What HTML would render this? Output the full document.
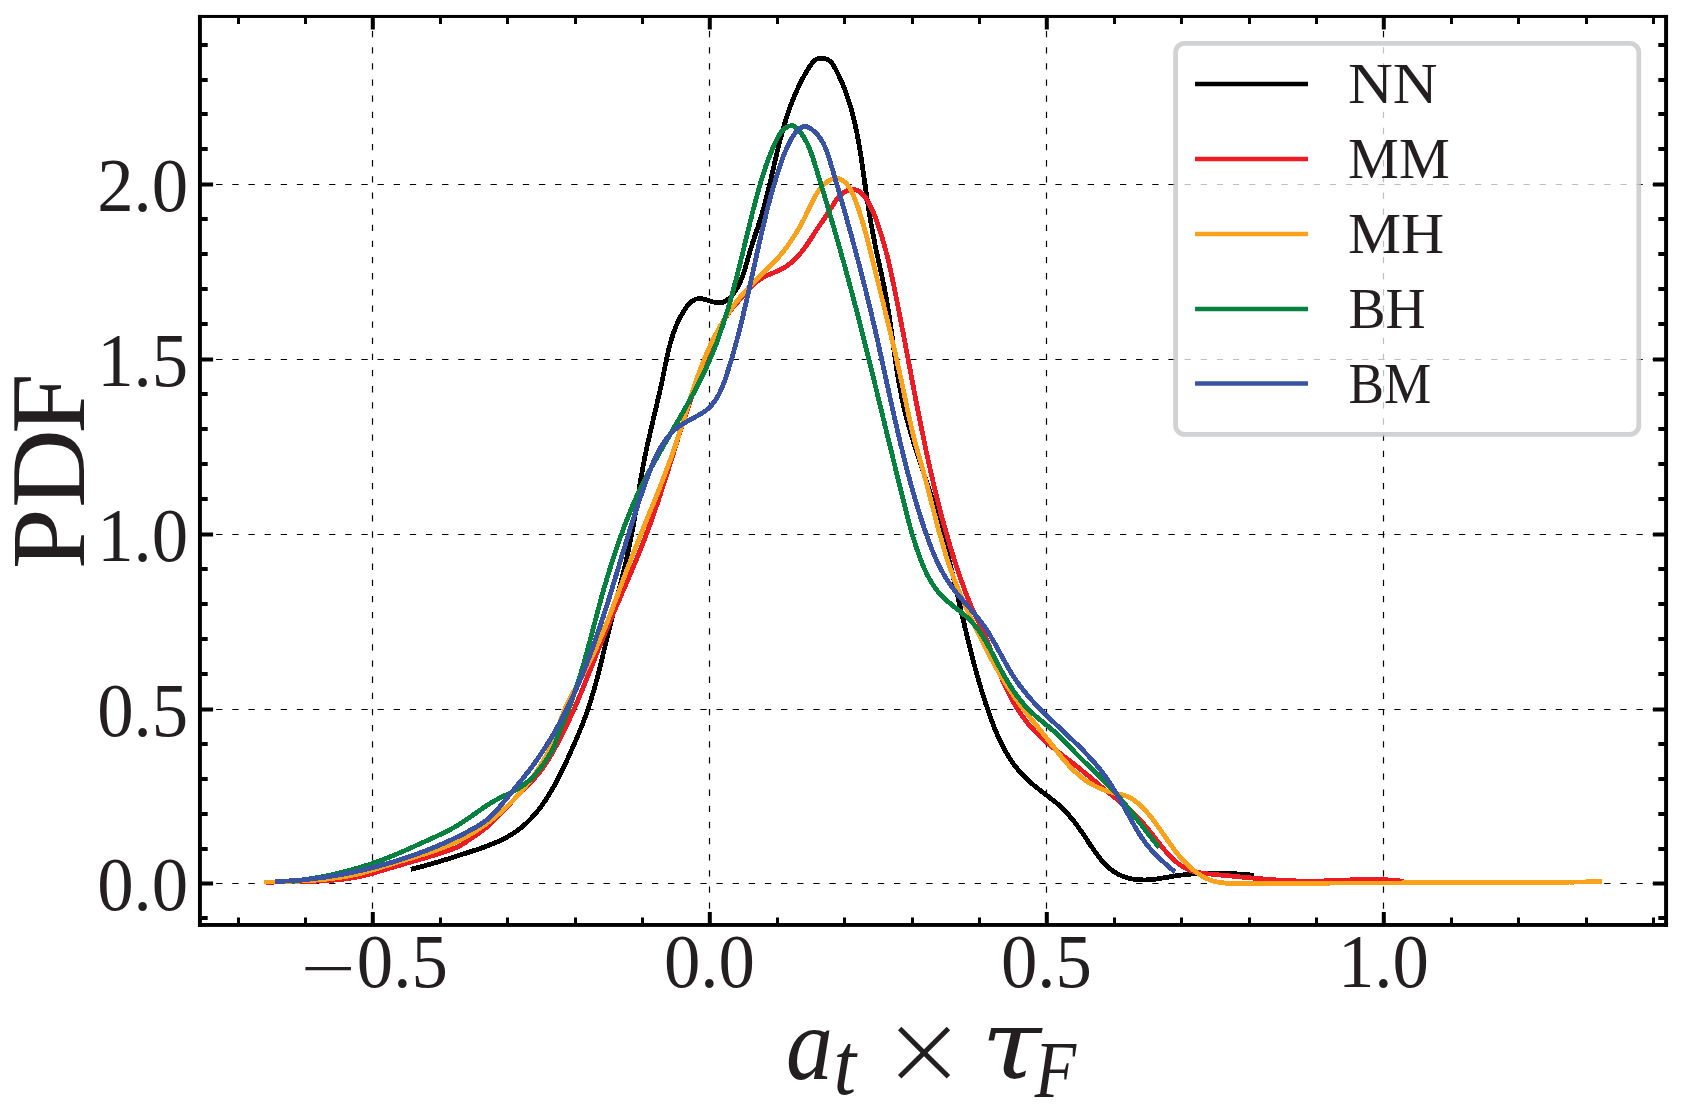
<!DOCTYPE html>
<html lang="en"><head><meta charset="utf-8"><title>PDF of a_t x tau_F</title>
<style>html,body{margin:0;padding:0;background:#fff;}body{width:1684px;height:1113px;overflow:hidden;}svg{display:block;}text{font-family:"Liberation Serif","DejaVu Serif",serif;fill:#231f20;}</style></head><body>
<svg width="1684" height="1113" viewBox="0 0 1684 1113">
<rect x="0" y="0" width="1684" height="1113" fill="#ffffff"/>
<g stroke="#000" stroke-width="1.2" stroke-dasharray="6.3 9.84" fill="none">
<path d="M372.50 925.00V16.50"/>
<path d="M709.50 925.00V16.50"/>
<path d="M1046.50 925.00V16.50"/>
<path d="M1383.50 925.00V16.50"/>
<path d="M200.00 883.50H1666.00"/>
<path d="M200.00 709.50H1666.00"/>
<path d="M200.00 534.50H1666.00"/>
<path d="M200.00 359.50H1666.00"/>
<path d="M200.00 184.50H1666.00"/>
</g>
<g fill="none" stroke-width="4.8" stroke-linejoin="round" stroke-linecap="butt" shape-rendering="crispEdges">
<path id="c-black" stroke="#000000" d="M410.9 869.4 414.8 868.4 418.7 867.4 422.5 866.4 426.4 865.3 430.2 864.2 434.1 863.1 437.9 862.0 441.7 860.8 445.6 859.7 449.4 858.5 453.2 857.3 457.0 856.1 460.8 854.8 464.6 853.6 468.4 852.4 472.2 851.1 476.0 849.9 479.8 848.6 483.6 847.3 487.3 845.9 491.0 844.5 494.7 843.0 498.4 841.4 502.0 839.7 505.6 837.9 509.1 835.9 512.5 833.9 515.8 831.6 519.1 829.3 522.2 826.8 525.2 824.2 528.1 821.4 530.9 818.6 533.6 815.6 536.3 812.6 538.8 809.5 541.2 806.3 543.5 803.1 545.8 799.8 547.9 796.4 550.0 793.0 552.1 789.6 554.0 786.1 556.0 782.6 557.8 779.0 559.6 775.5 561.4 771.9 563.2 768.3 564.9 764.7 566.6 761.1 568.2 757.4 569.9 753.8 571.5 750.1 573.1 746.5 574.7 742.8 576.3 739.2 577.9 735.5 579.4 731.8 580.9 728.1 582.4 724.4 583.8 720.6 585.2 716.9 586.6 713.1 587.9 709.4 589.2 705.6 590.4 701.8 591.6 697.9 592.7 694.1 593.9 690.3 594.9 686.4 596.0 682.6 597.0 678.7 598.0 674.8 599.0 671.0 600.0 667.1 600.9 663.2 601.9 659.3 602.8 655.4 603.8 651.5 604.7 647.7 605.6 643.8 606.5 639.9 607.5 636.0 608.4 632.1 609.4 628.2 610.4 624.4 611.3 620.5 612.3 616.6 613.3 612.7 614.3 608.8 615.3 605.0 616.3 601.1 617.2 597.2 618.2 593.3 619.2 589.5 620.2 585.6 621.1 581.7 622.1 577.8 623.0 573.9 623.9 570.1 624.9 566.2 625.8 562.3 626.7 558.4 627.5 554.5 628.4 550.6 629.2 546.6 630.0 542.7 630.8 538.8 631.5 534.9 632.3 531.0 633.0 527.0 633.7 523.1 634.4 519.1 635.0 515.2 635.7 511.3 636.3 507.3 636.9 503.4 637.6 499.4 638.2 495.5 638.8 491.5 639.4 487.6 640.1 483.6 640.7 479.7 641.4 475.7 642.1 471.8 642.8 467.9 643.5 463.9 644.3 460.0 645.0 456.1 645.9 452.2 646.7 448.3 647.5 444.3 648.4 440.4 649.3 436.5 650.2 432.6 651.1 428.7 652.0 424.9 652.9 421.0 653.8 417.1 654.7 413.2 655.6 409.3 656.6 405.4 657.5 401.5 658.4 397.6 659.3 393.7 660.2 389.8 661.0 385.9 661.9 382.0 662.7 378.1 663.5 374.2 664.3 370.3 665.1 366.3 665.9 362.4 666.7 358.5 667.6 354.6 668.4 350.7 669.4 346.8 670.4 343.0 671.5 339.1 672.7 335.3 674.0 331.5 675.4 327.8 676.9 324.1 678.6 320.5 680.4 316.9 682.4 313.4 684.5 310.0 686.8 306.7 689.3 303.7 692.3 301.0 695.8 299.1 699.8 298.5 703.7 299.1 707.5 300.2 711.3 301.5 715.2 302.4 719.2 302.8 723.1 302.3 726.7 300.5 729.7 297.9 732.4 294.9 734.7 291.7 736.9 288.3 738.8 284.8 740.5 281.2 742.0 277.5 743.4 273.8 744.7 270.0 745.8 266.1 746.9 262.3 748.0 258.4 749.1 254.6 750.2 250.8 751.3 246.9 752.5 243.1 753.8 239.3 755.0 235.5 756.3 231.7 757.6 227.9 758.8 224.1 760.0 220.3 761.2 216.5 762.3 212.7 763.4 208.8 764.5 205.0 765.5 201.1 766.5 197.2 767.5 193.4 768.4 189.5 769.3 185.6 770.3 181.7 771.2 177.8 772.1 173.9 773.0 170.0 773.9 166.1 774.8 162.2 775.7 158.3 776.6 154.4 777.5 150.5 778.5 146.7 779.4 142.8 780.4 138.9 781.5 135.0 782.5 131.2 783.6 127.3 784.7 123.5 785.9 119.7 787.1 115.9 788.4 112.1 789.7 108.3 791.0 104.5 792.5 100.8 794.0 97.1 795.5 93.4 797.1 89.8 798.8 86.1 800.6 82.5 802.4 79.0 804.3 75.5 806.3 72.0 808.4 68.6 810.5 65.2 812.9 62.0 816.0 59.5 819.7 58.1 823.7 58.1 827.4 59.4 830.7 61.7 833.1 64.9 835.1 68.3 836.9 71.9 838.7 75.5 840.4 79.1 842.0 82.7 843.5 86.4 845.0 90.2 846.4 93.9 847.7 97.7 848.9 101.5 850.1 105.3 851.2 109.1 852.3 113.0 853.3 116.9 854.2 120.8 855.1 124.7 856.0 128.6 856.8 132.5 857.5 136.4 858.3 140.3 859.0 144.3 859.6 148.2 860.3 152.2 860.9 156.1 861.5 160.1 862.1 164.0 862.7 168.0 863.2 171.9 863.8 175.9 864.3 179.8 864.9 183.8 865.5 187.8 866.0 191.7 866.6 195.7 867.2 199.6 867.8 203.6 868.4 207.5 869.0 211.5 869.7 215.4 870.4 219.4 871.0 223.3 871.8 227.2 872.5 231.2 873.2 235.1 874.0 239.0 874.7 242.9 875.5 246.9 876.3 250.8 877.2 254.7 878.0 258.6 878.9 262.5 879.8 266.4 880.6 270.3 881.5 274.2 882.3 278.1 883.1 282.0 884.0 285.9 884.7 289.9 885.5 293.8 886.2 297.7 886.9 301.7 887.5 305.6 888.2 309.6 888.8 313.5 889.4 317.5 890.0 321.4 890.5 325.4 891.1 329.3 891.7 333.3 892.2 337.3 892.7 341.2 893.3 345.2 893.8 349.1 894.4 353.1 895.0 357.0 895.5 361.0 896.1 365.0 896.7 368.9 897.3 372.9 898.0 376.8 898.6 380.8 899.3 384.7 900.0 388.6 900.8 392.6 901.5 396.5 902.4 400.4 903.2 404.3 904.1 408.2 905.0 412.1 906.0 416.0 907.0 419.8 908.1 423.7 909.2 427.5 910.3 431.4 911.4 435.2 912.6 439.0 913.8 442.8 915.0 446.7 916.2 450.5 917.5 454.3 918.7 458.1 920.0 461.9 921.2 465.6 922.5 469.4 923.8 473.2 925.0 477.0 926.3 480.8 927.6 484.6 928.8 488.4 930.1 492.2 931.3 496.0 932.5 499.8 933.7 503.6 934.9 507.4 936.1 511.3 937.2 515.1 938.3 518.9 939.4 522.8 940.5 526.6 941.5 530.5 942.6 534.3 943.6 538.2 944.6 542.1 945.6 545.9 946.6 549.8 947.6 553.7 948.6 557.6 949.5 561.5 950.5 565.3 951.4 569.2 952.4 573.1 953.3 577.0 954.2 580.9 955.1 584.8 956.0 588.7 956.9 592.6 957.8 596.5 958.7 600.4 959.6 604.3 960.5 608.2 961.4 612.1 962.3 615.9 963.2 619.8 964.1 623.7 965.0 627.6 966.0 631.5 966.9 635.4 967.8 639.3 968.8 643.2 969.7 647.1 970.7 650.9 971.7 654.8 972.7 658.7 973.7 662.5 974.7 666.4 975.8 670.3 976.8 674.1 977.9 678.0 979.0 681.8 980.2 685.7 981.3 689.5 982.5 693.3 983.7 697.1 984.9 700.9 986.1 704.7 987.4 708.5 988.7 712.3 990.0 716.1 991.4 719.8 992.8 723.6 994.2 727.3 995.7 731.0 997.3 734.7 998.9 738.3 1000.6 741.9 1002.4 745.5 1004.3 749.1 1006.2 752.6 1008.3 756.0 1010.4 759.4 1012.7 762.7 1015.0 765.9 1017.5 769.1 1020.1 772.1 1022.7 775.1 1025.5 777.9 1028.4 780.7 1031.5 783.3 1034.5 785.9 1037.7 788.4 1040.8 790.8 1044.0 793.2 1047.2 795.7 1050.3 798.1 1053.5 800.6 1056.6 803.1 1059.6 805.7 1062.5 808.5 1065.3 811.3 1068.0 814.2 1070.6 817.3 1073.2 820.4 1075.6 823.5 1078.0 826.7 1080.3 830.0 1082.6 833.3 1084.8 836.6 1087.0 839.9 1089.2 843.3 1091.5 846.6 1093.7 849.9 1096.1 853.1 1098.4 856.3 1100.9 859.5 1103.6 862.5 1106.3 865.4 1109.3 868.1 1112.4 870.6 1115.7 872.8 1119.2 874.7 1122.9 876.3 1126.6 877.6 1130.5 878.6 1134.5 879.3 1138.4 879.7 1142.4 879.9 1146.4 879.9 1150.4 879.7 1154.4 879.3 1158.3 878.8 1162.3 878.1 1166.2 877.5 1170.2 876.8 1174.1 876.1 1178.1 875.5 1182.0 875.0 1186.0 874.5 1190.0 874.2 1194.0 873.8 1198.0 873.6 1201.9 873.4 1205.9 873.3 1209.9 873.2 1213.9 873.2 1217.9 873.2 1221.9 873.3 1225.9 873.4 1229.9 873.5 1233.9 873.7 1237.9 874.0 1241.9 874.2 1245.9 874.5 1249.9 874.9 1253.9 875.2"/>
<path id="c-red" stroke="#ed1c24" d="M266.1 882.5 270.1 882.3 274.0 882.1 278.0 881.9 282.0 881.8 286.0 881.7 290.0 881.7 294.0 881.6 298.0 881.5 302.0 881.5 306.0 881.4 310.0 881.3 314.0 881.2 318.0 881.1 322.0 880.9 326.0 880.7 329.9 880.4 333.9 880.1 337.9 879.8 341.9 879.4 345.8 878.9 349.8 878.3 353.7 877.6 357.7 876.9 361.6 876.1 365.4 875.1 369.3 874.2 373.2 873.1 377.0 872.0 380.9 870.9 384.7 869.8 388.5 868.6 392.3 867.4 396.2 866.3 400.0 865.2 403.8 864.1 407.7 862.9 411.5 861.8 415.3 860.7 419.2 859.6 423.0 858.5 426.8 857.4 430.7 856.2 434.5 855.1 438.3 853.9 442.1 852.6 445.9 851.4 449.7 850.1 453.4 848.7 457.1 847.2 460.7 845.4 464.1 843.3 467.4 841.0 470.6 838.7 474.0 836.5 477.3 834.3 480.5 832.0 483.7 829.6 486.8 827.0 489.8 824.4 492.8 821.7 495.6 818.9 498.5 816.1 501.2 813.2 504.0 810.3 506.7 807.4 509.4 804.4 512.1 801.5 514.8 798.6 517.5 795.6 520.3 792.7 523.1 789.9 525.9 787.1 528.7 784.2 531.5 781.4 534.2 778.5 536.9 775.5 539.5 772.4 541.9 769.3 544.2 766.0 546.4 762.7 548.5 759.3 550.6 755.9 552.6 752.4 554.5 748.9 556.5 745.4 558.4 741.9 560.2 738.4 562.0 734.8 563.8 731.2 565.6 727.6 567.3 724.0 569.0 720.4 570.6 716.8 572.3 713.2 573.9 709.5 575.5 705.8 577.1 702.2 578.6 698.5 580.2 694.8 581.7 691.1 583.2 687.4 584.7 683.7 586.2 680.0 587.7 676.3 589.2 672.6 590.7 668.9 592.1 665.2 593.6 661.5 595.1 657.7 596.5 654.0 598.0 650.3 599.5 646.6 601.0 642.9 602.5 639.2 604.0 635.5 605.5 631.8 607.1 628.1 608.6 624.4 610.2 620.8 611.7 617.1 613.3 613.4 614.9 609.7 616.5 606.1 618.1 602.4 619.7 598.7 621.2 595.1 622.8 591.4 624.4 587.7 626.0 584.1 627.6 580.4 629.1 576.7 630.7 573.1 632.3 569.4 633.8 565.7 635.4 562.0 636.9 558.3 638.4 554.6 639.9 550.9 641.4 547.2 642.9 543.5 644.3 539.8 645.7 536.0 647.1 532.3 648.5 528.6 649.9 524.8 651.3 521.1 652.6 517.3 653.9 513.5 655.2 509.7 656.5 506.0 657.8 502.2 659.0 498.4 660.3 494.6 661.5 490.8 662.8 487.0 664.0 483.2 665.2 479.4 666.4 475.6 667.6 471.8 668.8 468.0 670.0 464.1 671.2 460.3 672.4 456.5 673.6 452.7 674.8 448.9 675.9 445.1 677.1 441.3 678.3 437.5 679.5 433.6 680.8 429.8 682.0 426.0 683.2 422.2 684.4 418.4 685.7 414.6 686.9 410.8 688.2 407.0 689.5 403.3 690.7 399.5 692.1 395.7 693.4 391.9 694.7 388.2 696.1 384.4 697.4 380.7 698.8 376.9 700.2 373.2 701.7 369.5 703.1 365.7 704.6 362.0 706.1 358.3 707.7 354.6 709.2 351.0 710.8 347.3 712.4 343.6 714.1 340.0 715.7 336.4 717.5 332.8 719.2 329.2 721.1 325.7 723.0 322.2 725.1 318.7 727.2 315.3 729.5 312.0 731.8 308.8 734.3 305.7 737.0 302.7 739.7 299.8 742.4 296.8 745.1 293.9 747.7 290.9 750.4 287.9 753.1 285.0 756.0 282.2 759.1 279.8 762.5 277.7 766.1 275.9 769.8 274.3 773.4 272.8 777.1 271.2 780.8 269.5 784.3 267.6 787.6 265.4 790.8 263.0 793.8 260.4 796.6 257.5 799.3 254.6 801.8 251.5 804.2 248.3 806.6 245.1 808.8 241.8 811.1 238.5 813.2 235.1 815.4 231.8 817.6 228.4 819.8 225.1 822.1 221.8 824.3 218.5 826.6 215.2 828.8 211.9 830.9 208.5 833.0 205.1 835.1 201.7 837.4 198.4 840.0 195.4 843.0 192.8 846.5 190.8 850.2 189.5 854.2 189.3 858.0 190.5 861.2 192.8 864.0 195.7 866.3 198.9 868.4 202.3 870.3 205.8 872.0 209.4 873.6 213.1 875.1 216.8 876.5 220.5 877.8 224.3 879.1 228.1 880.4 231.9 881.6 235.7 882.7 239.5 883.8 243.4 884.9 247.2 885.9 251.1 886.9 254.9 887.9 258.8 888.8 262.7 889.7 266.6 890.6 270.5 891.4 274.4 892.3 278.3 893.1 282.2 893.9 286.1 894.7 290.0 895.5 294.0 896.3 297.9 897.1 301.8 897.8 305.7 898.6 309.6 899.4 313.5 900.1 317.5 900.9 321.4 901.6 325.3 902.4 329.2 903.2 333.2 903.9 337.1 904.7 341.0 905.4 344.9 906.1 348.9 906.9 352.8 907.6 356.7 908.4 360.6 909.1 364.6 909.9 368.5 910.6 372.4 911.3 376.3 912.1 380.3 912.8 384.2 913.6 388.1 914.3 392.0 915.1 395.9 915.8 399.9 916.6 403.8 917.4 407.7 918.1 411.6 918.9 415.6 919.7 419.5 920.5 423.4 921.3 427.3 922.1 431.2 922.9 435.1 923.7 439.0 924.5 443.0 925.3 446.9 926.1 450.8 927.0 454.7 927.8 458.6 928.7 462.5 929.5 466.4 930.4 470.3 931.3 474.2 932.2 478.1 933.1 482.0 934.0 485.8 935.0 489.7 935.9 493.6 936.9 497.5 937.8 501.4 938.8 505.2 939.8 509.1 940.8 513.0 941.8 516.8 942.9 520.7 943.9 524.5 945.0 528.4 946.1 532.2 947.2 536.1 948.3 539.9 949.4 543.8 950.6 547.6 951.7 551.4 952.9 555.2 954.1 559.0 955.3 562.8 956.6 566.6 957.8 570.4 959.1 574.2 960.4 578.0 961.7 581.7 963.1 585.5 964.4 589.3 965.8 593.0 967.3 596.7 968.8 600.4 970.3 604.1 971.8 607.8 973.4 611.5 975.1 615.1 976.8 618.7 978.6 622.3 980.3 625.9 982.1 629.5 983.8 633.1 985.4 636.8 986.9 640.4 988.4 644.1 989.9 647.9 991.3 651.6 992.7 655.3 994.1 659.1 995.5 662.8 996.9 666.5 998.4 670.3 999.9 674.0 1001.4 677.7 1003.0 681.3 1004.7 685.0 1006.4 688.6 1008.1 692.2 1010.0 695.7 1011.8 699.2 1013.8 702.7 1015.8 706.2 1017.9 709.6 1020.1 712.9 1022.4 716.2 1024.7 719.4 1027.2 722.6 1029.7 725.6 1032.4 728.6 1035.1 731.6 1037.9 734.4 1040.8 737.2 1043.8 739.8 1046.8 742.5 1049.8 745.1 1052.9 747.6 1056.0 750.1 1059.1 752.6 1062.3 755.0 1065.4 757.5 1068.6 759.9 1071.8 762.4 1074.9 764.8 1078.0 767.3 1081.1 769.8 1084.2 772.4 1087.3 774.9 1090.4 777.5 1093.4 780.0 1096.5 782.6 1099.6 785.2 1102.6 787.7 1105.7 790.3 1108.8 792.8 1111.9 795.3 1115.0 797.8 1118.1 800.3 1121.2 802.8 1124.3 805.4 1127.4 807.9 1130.4 810.5 1133.4 813.2 1136.3 816.0 1139.1 818.8 1141.8 821.8 1144.4 824.8 1147.0 827.8 1149.5 831.0 1151.9 834.1 1154.4 837.2 1156.9 840.4 1159.3 843.5 1161.8 846.7 1164.3 849.7 1166.9 852.8 1169.6 855.7 1172.5 858.6 1175.4 861.3 1178.5 863.8 1181.7 866.1 1185.2 868.1 1188.8 869.8 1192.6 871.1 1196.4 872.1 1200.4 872.9 1204.3 873.4 1208.3 873.9 1212.3 874.2 1216.2 874.6 1220.2 875.0 1224.2 875.3 1228.2 875.7 1232.2 876.1 1236.1 876.5 1240.1 876.9 1244.1 877.3 1248.1 877.6 1252.0 878.0 1256.0 878.3 1260.0 878.7 1264.0 879.0 1268.0 879.3 1271.9 879.6 1275.9 879.9 1279.9 880.2 1283.9 880.4 1287.9 880.6 1291.9 880.8 1295.9 880.9 1299.9 881.0 1303.9 881.1 1307.9 881.1 1311.9 881.1 1315.8 881.0 1319.8 881.0 1323.8 880.9 1327.8 880.7 1331.8 880.6 1335.8 880.4 1339.8 880.3 1343.8 880.1 1347.8 880.0 1351.8 879.8 1355.8 879.7 1359.8 879.6 1363.8 879.5 1367.8 879.5 1371.7 879.5 1375.7 879.5 1379.7 879.6 1383.7 879.7 1387.7 879.9 1391.7 880.2 1395.7 880.5 1399.7 880.9 1403.6 881.4"/>
<path id="c-orange" stroke="#faa21b" d="M264.2 882.1 268.2 882.0 272.2 882.0 276.1 881.9 280.1 881.8 284.1 881.7 288.1 881.5 292.1 881.4 296.1 881.3 300.1 881.1 304.1 880.9 308.1 880.7 312.1 880.4 316.0 880.1 320.0 879.8 324.0 879.4 328.0 879.0 331.9 878.5 335.9 878.0 339.9 877.4 343.8 876.8 347.7 876.1 351.7 875.3 355.6 874.5 359.4 873.6 363.3 872.6 367.2 871.5 371.0 870.4 374.8 869.3 378.6 868.1 382.5 866.9 386.3 865.7 390.1 864.5 393.9 863.3 397.7 862.1 401.5 861.0 405.4 859.8 409.2 858.7 413.0 857.6 416.8 856.4 420.7 855.2 424.5 854.1 428.3 852.8 432.1 851.6 435.8 850.3 439.6 848.9 443.3 847.5 447.0 846.0 450.7 844.4 454.4 842.8 458.0 841.1 461.5 839.2 465.0 837.4 468.5 835.4 472.0 833.4 475.3 831.3 478.7 829.1 482.0 826.8 485.3 824.5 488.5 822.2 491.7 819.7 494.8 817.2 497.8 814.7 500.9 812.1 503.8 809.4 506.8 806.7 509.6 803.9 512.5 801.1 515.2 798.2 517.9 795.3 520.6 792.3 523.2 789.3 525.7 786.2 528.2 783.0 530.6 779.9 533.0 776.6 535.3 773.4 537.5 770.1 539.7 766.7 541.8 763.3 543.8 759.9 545.8 756.4 547.6 752.9 549.4 749.3 551.1 745.7 552.8 742.0 554.3 738.3 555.7 734.6 557.0 730.8 558.3 727.1 559.6 723.3 561.0 719.5 562.3 715.8 563.8 712.0 565.3 708.3 566.9 704.7 568.6 701.1 570.4 697.5 572.3 694.0 574.2 690.5 576.1 687.0 578.1 683.5 580.0 680.0 581.9 676.5 583.8 673.0 585.7 669.5 587.5 665.9 589.3 662.3 591.1 658.7 592.8 655.1 594.5 651.5 596.2 647.9 597.8 644.2 599.4 640.6 601.0 636.9 602.5 633.2 604.1 629.6 605.6 625.9 607.1 622.2 608.6 618.4 610.0 614.7 611.5 611.0 612.9 607.3 614.3 603.5 615.7 599.8 617.1 596.1 618.5 592.3 619.9 588.6 621.3 584.8 622.7 581.1 624.1 577.4 625.5 573.6 626.9 569.9 628.4 566.1 629.8 562.4 631.2 558.7 632.7 555.0 634.1 551.2 635.6 547.5 637.1 543.8 638.6 540.1 640.0 536.4 641.5 532.7 643.0 529.0 644.5 525.3 646.0 521.6 647.5 517.9 649.0 514.2 650.5 510.5 652.0 506.8 653.5 503.1 655.0 499.4 656.5 495.7 658.0 492.0 659.5 488.2 660.9 484.5 662.4 480.8 663.8 477.1 665.2 473.3 666.6 469.6 668.0 465.9 669.4 462.1 670.8 458.4 672.1 454.6 673.5 450.8 674.8 447.1 676.1 443.3 677.3 439.5 678.6 435.7 679.8 431.9 681.0 428.1 682.2 424.3 683.4 420.5 684.6 416.7 685.8 412.8 686.9 409.0 688.1 405.2 689.3 401.4 690.5 397.6 691.8 393.8 693.0 390.0 694.3 386.2 695.5 382.4 696.9 378.6 698.2 374.9 699.6 371.1 701.0 367.4 702.4 363.7 703.9 360.0 705.4 356.3 707.0 352.6 708.6 348.9 710.3 345.3 712.0 341.7 713.8 338.1 715.6 334.6 717.5 331.1 719.4 327.6 721.4 324.1 723.5 320.7 725.6 317.3 727.8 313.9 730.0 310.6 732.3 307.4 734.7 304.1 737.1 301.0 739.6 297.9 742.2 294.8 744.8 291.8 747.5 288.9 750.3 286.0 753.1 283.1 755.9 280.3 758.8 277.5 761.6 274.7 764.5 271.9 767.3 269.1 770.1 266.3 772.9 263.4 775.6 260.5 778.3 257.5 780.9 254.5 783.4 251.4 785.8 248.2 788.2 245.0 790.5 241.7 792.7 238.4 794.9 235.1 797.0 231.7 799.0 228.2 801.0 224.7 802.8 221.2 804.7 217.7 806.4 214.1 808.1 210.5 809.8 206.8 811.5 203.2 813.3 199.6 815.2 196.1 817.3 192.7 819.6 189.4 822.1 186.4 824.9 183.6 828.1 181.1 831.6 179.2 835.5 178.3 839.4 178.9 843.0 180.6 846.0 183.2 848.5 186.3 850.6 189.7 852.4 193.3 854.0 196.9 855.5 200.6 856.9 204.4 858.2 208.1 859.5 211.9 860.7 215.8 861.8 219.6 863.0 223.4 864.1 227.2 865.1 231.1 866.2 235.0 867.2 238.8 868.2 242.7 869.2 246.6 870.1 250.4 871.1 254.3 872.0 258.2 873.0 262.1 874.0 265.9 874.9 269.8 875.9 273.7 876.8 277.6 877.8 281.5 878.8 285.3 879.7 289.2 880.7 293.1 881.6 297.0 882.6 300.8 883.6 304.7 884.5 308.6 885.5 312.5 886.4 316.4 887.4 320.2 888.3 324.1 889.2 328.0 890.2 331.9 891.1 335.8 892.0 339.7 892.9 343.5 893.9 347.4 894.8 351.3 895.7 355.2 896.6 359.1 897.4 363.0 898.3 366.9 899.2 370.8 900.1 374.7 900.9 378.6 901.8 382.5 902.6 386.4 903.4 390.3 904.2 394.2 905.1 398.1 905.9 402.0 906.7 405.9 907.5 409.9 908.4 413.8 909.2 417.7 910.1 421.6 911.0 425.5 911.9 429.3 912.8 433.2 913.8 437.1 914.8 441.0 915.8 444.8 916.9 448.7 918.0 452.5 919.1 456.4 920.2 460.2 921.2 464.1 922.3 467.9 923.4 471.8 924.4 475.6 925.5 479.5 926.5 483.3 927.5 487.2 928.5 491.1 929.5 494.9 930.5 498.8 931.5 502.7 932.5 506.5 933.5 510.4 934.5 514.3 935.5 518.1 936.5 522.0 937.5 525.9 938.5 529.7 939.6 533.6 940.7 537.4 941.8 541.3 942.9 545.1 944.0 548.9 945.2 552.7 946.3 556.6 947.6 560.4 948.8 564.2 950.1 567.9 951.4 571.7 952.8 575.5 954.2 579.2 955.6 582.9 957.1 586.7 958.6 590.4 960.1 594.1 961.7 597.7 963.2 601.4 964.9 605.0 966.5 608.7 968.2 612.3 969.9 615.9 971.6 619.5 973.3 623.1 975.0 626.7 976.8 630.3 978.5 633.9 980.3 637.5 982.1 641.1 983.9 644.6 985.7 648.2 987.6 651.7 989.4 655.3 991.3 658.8 993.2 662.3 995.1 665.8 997.1 669.3 999.1 672.7 1001.1 676.2 1003.2 679.6 1005.3 683.0 1007.4 686.4 1009.6 689.7 1011.8 693.0 1014.1 696.3 1016.4 699.6 1018.7 702.8 1021.1 706.0 1023.6 709.2 1026.0 712.4 1028.5 715.5 1031.0 718.6 1033.5 721.7 1036.0 724.8 1038.5 727.9 1041.0 731.0 1043.5 734.2 1046.0 737.3 1048.5 740.4 1050.9 743.6 1053.4 746.7 1055.8 749.9 1058.3 753.0 1060.8 756.1 1063.3 759.2 1066.0 762.2 1068.6 765.2 1071.4 768.1 1074.2 770.9 1077.1 773.6 1080.2 776.2 1083.3 778.7 1086.5 781.0 1089.9 783.2 1093.4 785.2 1096.9 787.0 1100.6 788.6 1104.3 790.0 1108.1 791.3 1111.9 792.4 1115.8 793.4 1119.7 794.2 1123.6 795.2 1127.4 796.6 1130.9 798.3 1134.3 800.4 1137.5 802.9 1140.5 805.5 1143.3 808.3 1146.0 811.2 1148.7 814.3 1151.2 817.4 1153.6 820.5 1156.0 823.7 1158.3 827.0 1160.6 830.2 1162.9 833.5 1165.2 836.8 1167.4 840.1 1169.7 843.4 1172.1 846.6 1174.4 849.8 1176.9 853.0 1179.4 856.1 1182.0 859.1 1184.7 862.0 1187.5 864.9 1190.5 867.6 1193.5 870.2 1196.7 872.6 1200.0 874.8 1203.4 876.9 1207.0 878.7 1210.7 880.2 1214.5 881.4 1218.4 882.2 1222.4 882.8 1226.3 883.2 1230.3 883.3 1234.3 883.4 1238.3 883.4 1242.3 883.5 1246.3 883.5 1250.3 883.5 1254.3 883.5 1258.3 883.5 1262.3 883.5 1266.3 883.4 1270.3 883.4 1274.3 883.4 1278.3 883.4 1282.2 883.4 1286.2 883.4 1290.2 883.3 1294.2 883.3 1298.2 883.3 1302.2 883.2 1306.2 883.2 1310.2 883.2 1314.2 883.2 1318.2 883.1 1322.2 883.1 1326.2 883.1 1330.2 883.1 1334.2 883.0 1338.2 883.0 1342.2 883.0 1346.2 883.0 1350.1 883.0 1354.1 883.0 1358.1 882.9 1362.1 882.9 1366.1 882.9 1370.1 882.9 1374.1 882.9 1378.1 882.9 1382.1 882.9 1386.1 882.9 1390.1 882.9 1394.1 882.9 1398.1 882.9 1402.1 882.9 1406.1 882.8 1410.1 882.8 1414.1 882.8 1418.1 882.8 1422.0 882.8 1426.0 882.8 1430.0 882.8 1434.0 882.8 1438.0 882.8 1442.0 882.8 1446.0 882.8 1450.0 882.8 1454.0 882.8 1458.0 882.8 1462.0 882.8 1466.0 882.8 1470.0 882.8 1474.0 882.8 1478.0 882.7 1482.0 882.7 1486.0 882.7 1490.0 882.7 1493.9 882.7 1497.9 882.7 1501.9 882.7 1505.9 882.6 1509.9 882.6 1513.9 882.6 1517.9 882.6 1521.9 882.5 1525.9 882.5 1529.9 882.5 1533.9 882.5 1537.9 882.4 1541.9 882.4 1545.9 882.4 1549.9 882.3 1553.9 882.3 1557.9 882.2 1561.8 882.2 1565.8 882.2 1569.8 882.1 1573.8 882.1 1577.8 882.0 1581.8 881.9 1585.8 881.9 1589.8 881.8 1593.8 881.8 1597.8 881.7 1601.8 881.6"/>
<path id="c-green" stroke="#07813f" d="M291.5 881.6 295.5 881.0 299.4 880.5 303.4 879.9 307.3 879.3 311.3 878.6 315.2 878.0 319.2 877.2 323.1 876.5 327.0 875.7 330.9 874.9 334.8 874.0 338.7 873.1 342.6 872.1 346.5 871.1 350.3 870.1 354.2 869.1 358.0 867.9 361.9 866.8 365.7 865.6 369.5 864.4 373.3 863.1 377.0 861.8 380.8 860.4 384.5 859.0 388.3 857.5 392.0 856.0 395.7 854.5 399.3 852.9 403.0 851.4 406.7 849.7 410.3 848.1 414.0 846.5 417.6 844.8 421.3 843.2 424.9 841.5 428.6 839.9 432.2 838.2 435.8 836.6 439.4 834.9 443.0 833.1 446.6 831.3 450.2 829.5 453.7 827.6 457.1 825.6 460.5 823.5 463.9 821.3 467.2 819.1 470.5 816.8 473.8 814.5 477.0 812.2 480.3 809.9 483.6 807.6 486.9 805.4 490.3 803.3 493.7 801.2 497.3 799.3 500.8 797.5 504.4 795.7 508.0 794.0 511.6 792.2 515.1 790.3 518.6 788.3 521.9 786.1 525.2 783.8 528.3 781.3 531.2 778.6 534.0 775.7 536.7 772.8 539.2 769.7 541.7 766.5 544.0 763.3 546.3 759.9 548.4 756.6 550.5 753.1 552.4 749.7 554.2 746.1 555.6 742.3 556.9 738.6 558.3 734.8 559.7 731.1 561.2 727.3 562.7 723.6 564.2 719.9 565.7 716.2 567.2 712.5 568.7 708.8 570.1 705.1 571.5 701.3 572.9 697.6 574.2 693.8 575.5 690.0 576.7 686.2 578.0 682.4 579.2 678.6 580.4 674.8 581.5 671.0 582.6 667.1 583.8 663.3 584.8 659.4 585.9 655.6 587.0 651.7 588.0 647.9 589.1 644.0 590.1 640.1 591.1 636.3 592.1 632.4 593.2 628.5 594.2 624.7 595.2 620.8 596.2 616.9 597.2 613.1 598.3 609.2 599.3 605.4 600.3 601.5 601.4 597.6 602.5 593.8 603.6 589.9 604.7 586.1 605.8 582.3 607.0 578.4 608.1 574.6 609.3 570.8 610.5 567.0 611.7 563.2 612.9 559.3 614.1 555.5 615.4 551.8 616.7 548.0 618.0 544.2 619.3 540.4 620.6 536.6 622.0 532.9 623.3 529.1 624.7 525.4 626.2 521.6 627.6 517.9 629.1 514.2 630.6 510.5 632.1 506.8 633.7 503.1 635.3 499.5 637.0 495.8 638.7 492.2 640.4 488.6 642.2 485.0 644.0 481.4 645.8 477.9 647.7 474.3 649.5 470.8 651.4 467.3 653.4 463.8 655.3 460.3 657.3 456.8 659.2 453.3 661.2 449.9 663.2 446.4 665.2 442.9 667.2 439.5 669.2 436.0 671.2 432.5 673.2 429.1 675.2 425.6 677.2 422.2 679.2 418.7 681.2 415.2 683.2 411.8 685.2 408.3 687.1 404.8 689.1 401.3 691.0 397.8 692.9 394.3 694.8 390.8 696.7 387.2 698.5 383.7 700.3 380.1 702.1 376.5 703.8 372.9 705.5 369.3 707.2 365.7 708.8 362.0 710.4 358.3 711.9 354.7 713.5 351.0 714.9 347.2 716.4 343.5 717.7 339.8 719.1 336.0 720.4 332.2 721.7 328.4 723.0 324.6 724.2 320.8 725.4 317.0 726.6 313.2 727.8 309.4 728.9 305.5 730.0 301.7 731.1 297.9 732.2 294.0 733.2 290.1 734.2 286.3 735.3 282.4 736.3 278.5 737.3 274.7 738.2 270.8 739.2 266.9 740.2 263.0 741.1 259.2 742.1 255.3 743.0 251.4 744.0 247.5 744.9 243.6 745.9 239.7 746.8 235.8 747.7 232.0 748.7 228.1 749.6 224.2 750.6 220.3 751.6 216.4 752.5 212.6 753.5 208.7 754.5 204.8 755.6 200.9 756.6 197.1 757.6 193.2 758.7 189.4 759.8 185.5 760.9 181.7 762.1 177.8 763.2 174.0 764.5 170.2 765.7 166.4 767.1 162.7 768.4 158.9 769.9 155.2 771.4 151.5 772.9 147.8 774.5 144.1 776.2 140.5 778.0 136.9 780.1 133.5 782.6 130.4 785.6 127.8 789.1 126.0 793.1 125.7 796.4 127.9 799.1 130.8 801.6 133.9 803.8 137.2 805.8 140.7 807.6 144.3 809.2 147.9 810.7 151.7 812.0 155.4 813.3 159.2 814.5 163.0 815.7 166.9 816.8 170.7 818.0 174.5 819.1 178.3 820.3 182.2 821.5 186.0 822.6 189.8 823.8 193.6 824.9 197.5 826.1 201.3 827.2 205.1 828.3 209.0 829.5 212.8 830.6 216.6 831.7 220.5 832.9 224.3 834.0 228.1 835.1 232.0 836.2 235.8 837.3 239.7 838.4 243.5 839.5 247.4 840.6 251.2 841.6 255.1 842.7 258.9 843.8 262.8 844.8 266.6 845.9 270.5 846.9 274.3 848.0 278.2 849.0 282.1 850.1 285.9 851.1 289.8 852.1 293.7 853.1 297.5 854.1 301.4 855.1 305.3 856.2 309.1 857.2 313.0 858.2 316.9 859.2 320.7 860.1 324.6 861.1 328.5 862.1 332.4 863.1 336.2 864.1 340.1 865.0 344.0 866.0 347.9 867.0 351.8 868.0 355.6 868.9 359.5 869.9 363.4 870.8 367.3 871.8 371.2 872.7 375.0 873.7 378.9 874.6 382.8 875.6 386.7 876.5 390.6 877.5 394.5 878.4 398.4 879.4 402.2 880.3 406.1 881.3 410.0 882.2 413.9 883.1 417.8 884.1 421.7 885.0 425.6 886.0 429.4 886.9 433.3 887.9 437.2 888.8 441.1 889.7 445.0 890.7 448.9 891.6 452.8 892.6 456.6 893.5 460.5 894.5 464.4 895.4 468.3 896.4 472.2 897.3 476.1 898.3 480.0 899.2 483.8 900.2 487.7 901.1 491.6 902.1 495.5 903.0 499.4 904.0 503.2 905.0 507.1 906.0 511.0 907.0 514.9 908.0 518.7 909.0 522.6 910.0 526.5 911.1 530.3 912.2 534.2 913.4 538.0 914.5 541.8 915.7 545.6 917.0 549.4 918.3 553.2 919.7 557.0 921.1 560.7 922.6 564.4 924.1 568.1 925.8 571.7 927.5 575.3 929.4 578.8 931.4 582.3 933.6 585.7 935.9 588.9 938.4 592.1 941.0 595.1 943.8 597.9 946.8 600.6 949.8 603.2 952.9 605.8 956.0 608.3 959.2 610.7 962.3 613.2 965.3 615.8 968.3 618.5 971.1 621.3 973.8 624.3 976.4 627.3 978.8 630.5 981.1 633.8 983.3 637.2 985.3 640.6 987.3 644.1 989.3 647.6 991.1 651.1 993.0 654.6 994.8 658.2 996.7 661.7 998.5 665.3 1000.4 668.8 1002.3 672.3 1004.3 675.8 1006.3 679.3 1008.3 682.7 1010.4 686.1 1012.6 689.5 1014.8 692.8 1017.1 696.0 1019.6 699.2 1022.1 702.3 1024.7 705.4 1027.4 708.3 1030.2 711.1 1033.1 713.8 1036.1 716.5 1039.2 719.1 1042.3 721.6 1045.4 724.2 1048.5 726.7 1051.5 729.2 1054.6 731.9 1057.5 734.5 1060.4 737.3 1063.3 740.1 1066.0 743.0 1068.8 745.9 1071.5 748.8 1074.3 751.7 1077.1 754.5 1079.9 757.4 1082.8 760.2 1085.6 763.0 1088.5 765.8 1091.4 768.5 1094.3 771.3 1097.1 774.1 1100.0 776.9 1102.8 779.7 1105.6 782.5 1108.4 785.4 1111.2 788.3 1113.9 791.2 1116.6 794.2 1119.2 797.2 1121.8 800.2 1124.4 803.3 1126.9 806.4 1129.4 809.5 1131.9 812.7 1134.4 815.8 1136.8 819.0 1139.2 822.2 1141.7 825.3 1144.1 828.5 1146.5 831.7 1149.0 834.8 1151.4 838.0 1153.9 841.1 1156.4 844.3 1158.9 847.4"/>
<path id="c-blue" stroke="#3953a4" d="M275.1 881.4 279.1 881.3 283.1 881.2 287.1 881.0 291.1 880.8 295.1 880.5 299.1 880.2 303.1 879.8 307.0 879.4 311.0 879.0 315.0 878.5 318.9 878.0 322.9 877.5 326.8 876.9 330.8 876.3 334.7 875.7 338.7 875.0 342.6 874.3 346.5 873.5 350.4 872.7 354.4 871.9 358.3 871.0 362.2 870.2 366.0 869.2 369.9 868.3 373.8 867.3 377.7 866.3 381.5 865.2 385.4 864.1 389.2 863.0 393.0 861.9 396.8 860.7 400.7 859.5 404.4 858.3 408.2 857.0 412.0 855.7 415.8 854.4 419.5 853.0 423.3 851.6 427.0 850.2 430.7 848.7 434.4 847.2 438.1 845.7 441.8 844.1 445.4 842.5 449.1 840.8 452.7 839.2 456.3 837.4 459.9 835.7 463.5 833.9 467.0 832.0 470.5 830.1 474.0 828.2 477.5 826.2 480.9 824.1 484.2 821.8 487.3 819.4 490.4 816.8 493.2 814.0 496.0 811.1 498.6 808.1 501.2 805.0 503.7 801.9 506.2 798.8 508.7 795.7 511.3 792.6 513.8 789.5 516.3 786.5 518.9 783.4 521.4 780.3 523.9 777.1 526.3 774.0 528.8 770.8 531.2 767.7 533.6 764.5 535.9 761.2 538.2 757.9 540.5 754.7 542.7 751.3 544.9 748.0 547.0 744.6 549.2 741.2 551.2 737.8 553.3 734.4 555.3 730.9 557.2 727.4 559.1 723.9 561.0 720.4 562.9 716.9 564.7 713.3 566.5 709.7 568.3 706.2 570.0 702.6 571.7 698.9 573.4 695.3 575.0 691.7 576.6 688.0 578.2 684.4 579.8 680.7 581.3 677.0 582.9 673.3 584.3 669.6 585.8 665.9 587.3 662.1 588.7 658.4 590.1 654.7 591.5 650.9 592.8 647.2 594.2 643.4 595.5 639.6 596.8 635.9 598.1 632.1 599.4 628.3 600.7 624.5 601.9 620.7 603.2 616.9 604.4 613.1 605.6 609.3 606.8 605.5 608.0 601.7 609.2 597.9 610.4 594.1 611.6 590.2 612.7 586.4 613.9 582.6 615.0 578.8 616.2 574.9 617.3 571.1 618.5 567.3 619.6 563.5 620.8 559.6 621.9 555.8 623.1 552.0 624.2 548.2 625.4 544.3 626.6 540.5 627.7 536.7 628.9 532.9 630.1 529.1 631.3 525.2 632.5 521.4 633.7 517.6 634.9 513.8 636.2 510.0 637.4 506.2 638.7 502.4 639.9 498.7 641.2 494.9 642.5 491.1 643.8 487.3 645.2 483.6 646.5 479.8 647.9 476.1 649.3 472.3 650.8 468.6 652.2 464.9 653.8 461.2 655.4 457.5 657.1 453.9 659.0 450.4 660.9 446.9 663.1 443.5 665.3 440.2 667.8 437.1 670.4 434.1 673.2 431.2 676.2 428.6 679.4 426.2 682.7 424.0 686.2 421.9 689.6 420.0 693.2 418.1 696.7 416.2 700.2 414.3 703.6 412.2 706.8 409.8 709.8 407.1 712.4 404.2 714.8 401.0 717.0 397.6 719.0 394.1 720.7 390.5 722.3 386.9 723.8 383.2 725.1 379.4 726.4 375.6 727.6 371.8 728.8 368.0 730.0 364.2 731.2 360.4 732.3 356.5 733.4 352.7 734.5 348.8 735.5 345.0 736.6 341.1 737.6 337.3 738.6 333.4 739.6 329.5 740.6 325.7 741.5 321.8 742.5 317.9 743.4 314.0 744.3 310.1 745.2 306.2 746.1 302.3 747.0 298.4 747.9 294.5 748.8 290.6 749.7 286.7 750.5 282.8 751.4 278.9 752.2 275.0 753.1 271.1 753.9 267.2 754.8 263.3 755.7 259.4 756.5 255.5 757.4 251.6 758.3 247.7 759.1 243.8 760.0 239.9 760.9 236.0 761.8 232.1 762.7 228.3 763.6 224.4 764.6 220.5 765.5 216.6 766.5 212.7 767.4 208.8 768.4 205.0 769.4 201.1 770.5 197.3 771.5 193.4 772.6 189.6 773.7 185.7 774.9 181.9 776.0 178.1 777.2 174.2 778.4 170.4 779.7 166.7 781.0 162.9 782.3 159.1 783.7 155.4 785.2 151.7 786.8 148.0 788.5 144.4 790.3 140.8 792.3 137.3 794.5 134.0 797.0 130.9 799.9 128.2 803.5 126.5 807.5 126.9 811.0 128.8 814.1 131.3 816.9 134.1 819.4 137.2 821.7 140.5 823.6 144.0 825.3 147.6 826.8 151.3 828.1 155.1 829.3 158.9 830.5 162.7 831.6 166.6 832.8 170.4 833.9 174.2 835.0 178.1 836.1 181.9 837.3 185.7 838.4 189.6 839.5 193.4 840.6 197.3 841.7 201.1 842.8 204.9 843.9 208.8 845.0 212.6 846.1 216.5 847.1 220.3 848.2 224.2 849.3 228.0 850.3 231.9 851.4 235.7 852.4 239.6 853.5 243.4 854.5 247.3 855.6 251.1 856.6 255.0 857.6 258.9 858.6 262.7 859.6 266.6 860.6 270.5 861.6 274.3 862.6 278.2 863.6 282.1 864.6 286.0 865.6 289.8 866.5 293.7 867.5 297.6 868.4 301.5 869.4 305.4 870.3 309.2 871.2 313.1 872.1 317.0 873.1 320.9 874.0 324.8 874.9 328.7 875.7 332.6 876.6 336.5 877.5 340.4 878.4 344.3 879.2 348.2 880.1 352.1 881.0 356.0 881.8 359.9 882.7 363.8 883.5 367.7 884.4 371.6 885.2 375.5 886.1 379.4 886.9 383.3 887.8 387.2 888.6 391.1 889.5 395.0 890.3 398.9 891.2 402.8 892.1 406.7 892.9 410.6 893.8 414.5 894.7 418.4 895.6 422.3 896.5 426.2 897.4 430.1 898.3 434.0 899.2 437.9 900.1 441.8 901.0 445.7 902.0 449.5 902.9 453.4 903.9 457.3 904.8 461.2 905.8 465.0 906.8 468.9 907.8 472.8 908.9 476.6 909.9 480.5 910.9 484.4 912.0 488.2 913.1 492.1 914.2 495.9 915.3 499.7 916.4 503.6 917.6 507.4 918.7 511.2 919.9 515.0 921.1 518.8 922.4 522.6 923.6 526.4 924.9 530.2 926.2 534.0 927.5 537.8 928.8 541.5 930.3 545.3 931.7 549.0 933.2 552.7 934.8 556.4 936.4 560.0 938.1 563.6 939.9 567.2 941.8 570.7 943.7 574.2 945.7 577.7 947.9 581.1 950.1 584.4 952.4 587.6 954.8 590.8 957.3 593.9 959.9 597.0 962.5 600.0 965.1 603.0 967.7 606.0 970.4 609.0 973.0 612.0 975.6 615.1 978.1 618.2 980.6 621.3 983.0 624.5 985.3 627.8 987.5 631.2 989.6 634.5 991.6 638.0 993.6 641.4 995.6 644.9 997.5 648.4 999.4 651.9 1001.3 655.4 1003.3 658.9 1005.2 662.4 1007.1 665.9 1009.1 669.4 1011.2 672.8 1013.3 676.2 1015.5 679.5 1017.8 682.8 1020.1 686.0 1022.6 689.2 1025.1 692.3 1027.6 695.4 1030.2 698.4 1032.9 701.4 1035.6 704.3 1038.4 707.2 1041.2 710.1 1044.0 712.9 1046.8 715.7 1049.7 718.5 1052.6 721.3 1055.5 724.0 1058.4 726.7 1061.3 729.5 1064.2 732.2 1067.1 734.9 1070.0 737.7 1072.9 740.4 1075.8 743.2 1078.7 746.0 1081.5 748.8 1084.3 751.7 1087.1 754.5 1089.8 757.5 1092.5 760.4 1095.1 763.4 1097.7 766.5 1100.2 769.6 1102.6 772.8 1105.0 776.0 1107.3 779.3 1109.5 782.6 1111.7 785.9 1113.8 789.3 1115.9 792.7 1117.9 796.2 1119.9 799.6 1121.9 803.1 1123.8 806.6 1125.8 810.1 1127.7 813.6 1129.6 817.1 1131.5 820.6 1133.5 824.1 1135.5 827.6 1137.5 831.0 1139.6 834.4 1141.8 837.7 1144.1 841.0 1146.5 844.2 1149.0 847.3 1151.6 850.3 1154.4 853.2 1157.2 856.1 1160.0 858.9 1163.0 861.6 1165.9 864.2 1168.9 866.9 1172.0 869.5 1175.0 872.1"/>
</g>
<g stroke="#000" fill="none">
<path stroke-width="4.0" d="M372.80 925.00v-13.10M372.80 16.50v13.10"/>
<path stroke-width="4.0" d="M709.80 925.00v-13.10M709.80 16.50v13.10"/>
<path stroke-width="4.0" d="M1046.80 925.00v-13.10M1046.80 16.50v13.10"/>
<path stroke-width="4.0" d="M1383.80 925.00v-13.10M1383.80 16.50v13.10"/>
<path stroke-width="3.0" d="M238.50 925.00v-7.50M238.50 16.50v7.50"/>
<path stroke-width="3.0" d="M305.50 925.00v-7.50M305.50 16.50v7.50"/>
<path stroke-width="3.0" d="M440.50 925.00v-7.50M440.50 16.50v7.50"/>
<path stroke-width="3.0" d="M507.50 925.00v-7.50M507.50 16.50v7.50"/>
<path stroke-width="3.0" d="M575.50 925.00v-7.50M575.50 16.50v7.50"/>
<path stroke-width="3.0" d="M642.50 925.00v-7.50M642.50 16.50v7.50"/>
<path stroke-width="3.0" d="M777.50 925.00v-7.50M777.50 16.50v7.50"/>
<path stroke-width="3.0" d="M844.50 925.00v-7.50M844.50 16.50v7.50"/>
<path stroke-width="3.0" d="M912.50 925.00v-7.50M912.50 16.50v7.50"/>
<path stroke-width="3.0" d="M979.50 925.00v-7.50M979.50 16.50v7.50"/>
<path stroke-width="3.0" d="M1114.50 925.00v-7.50M1114.50 16.50v7.50"/>
<path stroke-width="3.0" d="M1181.50 925.00v-7.50M1181.50 16.50v7.50"/>
<path stroke-width="3.0" d="M1249.50 925.00v-7.50M1249.50 16.50v7.50"/>
<path stroke-width="3.0" d="M1316.50 925.00v-7.50M1316.50 16.50v7.50"/>
<path stroke-width="3.0" d="M1451.50 925.00v-7.50M1451.50 16.50v7.50"/>
<path stroke-width="3.0" d="M1518.50 925.00v-7.50M1518.50 16.50v7.50"/>
<path stroke-width="3.0" d="M1586.50 925.00v-7.50M1586.50 16.50v7.50"/>
<path stroke-width="3.0" d="M1653.50 925.00v-7.50M1653.50 16.50v7.50"/>
<path stroke-width="4.0" d="M200.00 883.50h13.10M1666.00 883.50h-13.10"/>
<path stroke-width="4.0" d="M200.00 709.50h13.10M1666.00 709.50h-13.10"/>
<path stroke-width="4.0" d="M200.00 534.50h13.10M1666.00 534.50h-13.10"/>
<path stroke-width="4.0" d="M200.00 359.50h13.10M1666.00 359.50h-13.10"/>
<path stroke-width="4.0" d="M200.00 184.50h13.10M1666.00 184.50h-13.10"/>
<path stroke-width="4.0" d="M200.00 918.00h7.70M1666.00 918.00h-7.70"/>
<path stroke-width="4.0" d="M200.00 849.00h7.70M1666.00 849.00h-7.70"/>
<path stroke-width="4.0" d="M200.00 814.00h7.70M1666.00 814.00h-7.70"/>
<path stroke-width="4.0" d="M200.00 779.00h7.70M1666.00 779.00h-7.70"/>
<path stroke-width="4.0" d="M200.00 744.00h7.70M1666.00 744.00h-7.70"/>
<path stroke-width="4.0" d="M200.00 674.00h7.70M1666.00 674.00h-7.70"/>
<path stroke-width="4.0" d="M200.00 639.00h7.70M1666.00 639.00h-7.70"/>
<path stroke-width="4.0" d="M200.00 604.00h7.70M1666.00 604.00h-7.70"/>
<path stroke-width="4.0" d="M200.00 569.00h7.70M1666.00 569.00h-7.70"/>
<path stroke-width="4.0" d="M200.00 499.00h7.70M1666.00 499.00h-7.70"/>
<path stroke-width="4.0" d="M200.00 464.00h7.70M1666.00 464.00h-7.70"/>
<path stroke-width="4.0" d="M200.00 429.00h7.70M1666.00 429.00h-7.70"/>
<path stroke-width="4.0" d="M200.00 394.00h7.70M1666.00 394.00h-7.70"/>
<path stroke-width="4.0" d="M200.00 324.00h7.70M1666.00 324.00h-7.70"/>
<path stroke-width="4.0" d="M200.00 289.00h7.70M1666.00 289.00h-7.70"/>
<path stroke-width="4.0" d="M200.00 254.00h7.70M1666.00 254.00h-7.70"/>
<path stroke-width="4.0" d="M200.00 219.00h7.70M1666.00 219.00h-7.70"/>
<path stroke-width="4.0" d="M200.00 149.00h7.70M1666.00 149.00h-7.70"/>
<path stroke-width="4.0" d="M200.00 114.00h7.70M1666.00 114.00h-7.70"/>
<path stroke-width="4.0" d="M200.00 80.00h7.70M1666.00 80.00h-7.70"/>
<path stroke-width="4.0" d="M200.00 45.00h7.70M1666.00 45.00h-7.70"/>
</g>
<g fill="#000">
<rect x="197.96" y="14.95" width="3.94" height="911.95"/>
<rect x="1664.10" y="14.95" width="3.95" height="911.95"/>
<rect x="197.96" y="14.95" width="1470.09" height="3.02"/>
<rect x="197.96" y="923.00" width="1470.09" height="3.90"/>
</g>
<rect x="1175.6" y="43.4" width="463.2" height="391.0" rx="9" ry="9" fill="#ffffff" fill-opacity="0.75" stroke="#c6c7c9" stroke-opacity="0.8" stroke-width="4.8"/>
<path d="M1195.05 83.9H1308" stroke="#000000" stroke-width="4.5" fill="none"/>
<text transform="translate(1347.94 103.30) scale(0.6209 0.5738)" font-size="100">NN</text>
<path d="M1195.05 159.0H1308" stroke="#ed1c24" stroke-width="4.5" fill="none"/>
<text transform="translate(1348.08 178.30) scale(0.5721 0.5738)" font-size="100">MM</text>
<path d="M1195.05 234.0H1308" stroke="#faa21b" stroke-width="4.5" fill="none"/>
<text transform="translate(1348.01 253.30) scale(0.5968 0.5738)" font-size="100">MH</text>
<path d="M1195.05 309.0H1308" stroke="#07813f" stroke-width="4.5" fill="none"/>
<text transform="translate(1348.53 328.30) scale(0.5556 0.5738)" font-size="100">BH</text>
<path d="M1195.05 383.6H1308" stroke="#3953a4" stroke-width="4.5" fill="none"/>
<text transform="translate(1348.60 403.30) scale(0.5320 0.5738)" font-size="100">BM</text>
<text transform="translate(663.90 987.40) scale(0.7282 0.7701)" font-size="100">0.0</text>
<text transform="translate(1000.90 987.40) scale(0.7282 0.7701)" font-size="100">0.5</text>
<text transform="translate(1337.90 987.40) scale(0.7282 0.7701)" font-size="100">1.0</text>
<text transform="translate(297.82 987.40) scale(0.7282 0.7701)" font-size="100"><tspan style="font-family:'DejaVu Sans',sans-serif;font-weight:200" dy="7.37">−</tspan><tspan dx="-2.80" dy="-7.37">0.5</tspan></text>
<text transform="translate(97.19 910.36) scale(0.7282 0.7701)" font-size="100">0.0</text>
<text transform="translate(97.19 735.58) scale(0.7282 0.7701)" font-size="100">0.5</text>
<text transform="translate(97.19 560.81) scale(0.7282 0.7701)" font-size="100">1.0</text>
<text transform="translate(97.19 386.03) scale(0.7282 0.7701)" font-size="100">1.5</text>
<text transform="translate(97.19 211.26) scale(0.7282 0.7701)" font-size="100">2.0</text>
<text transform="translate(84.00 569.18) rotate(-90) scale(1.0940 1.0600)" font-size="100" dx="0 0.37 -4.6">PDF</text>
<text transform="translate(785.98 1079.17) scale(0.9395 1.0292)" font-size="100" style="font-style:italic">a</text>
<text transform="translate(833.55 1094.42) scale(0.8115 0.8842)" font-size="100" style="font-style:italic">t</text>
<text transform="translate(881.64 1084.14) scale(1.0098 0.9902)" font-size="100" style="font-family:'DejaVu Sans',sans-serif;font-weight:200">×</text>
<text transform="translate(981.20 1078.92) scale(1.0857 0.9769)" font-size="100" style="font-family:'DejaVu Serif',serif;font-style:italic">τ</text>
<text transform="translate(1034.70 1096.60) scale(0.6774 0.8092)" font-size="100" style="font-style:italic">F</text>
</svg></body></html>
